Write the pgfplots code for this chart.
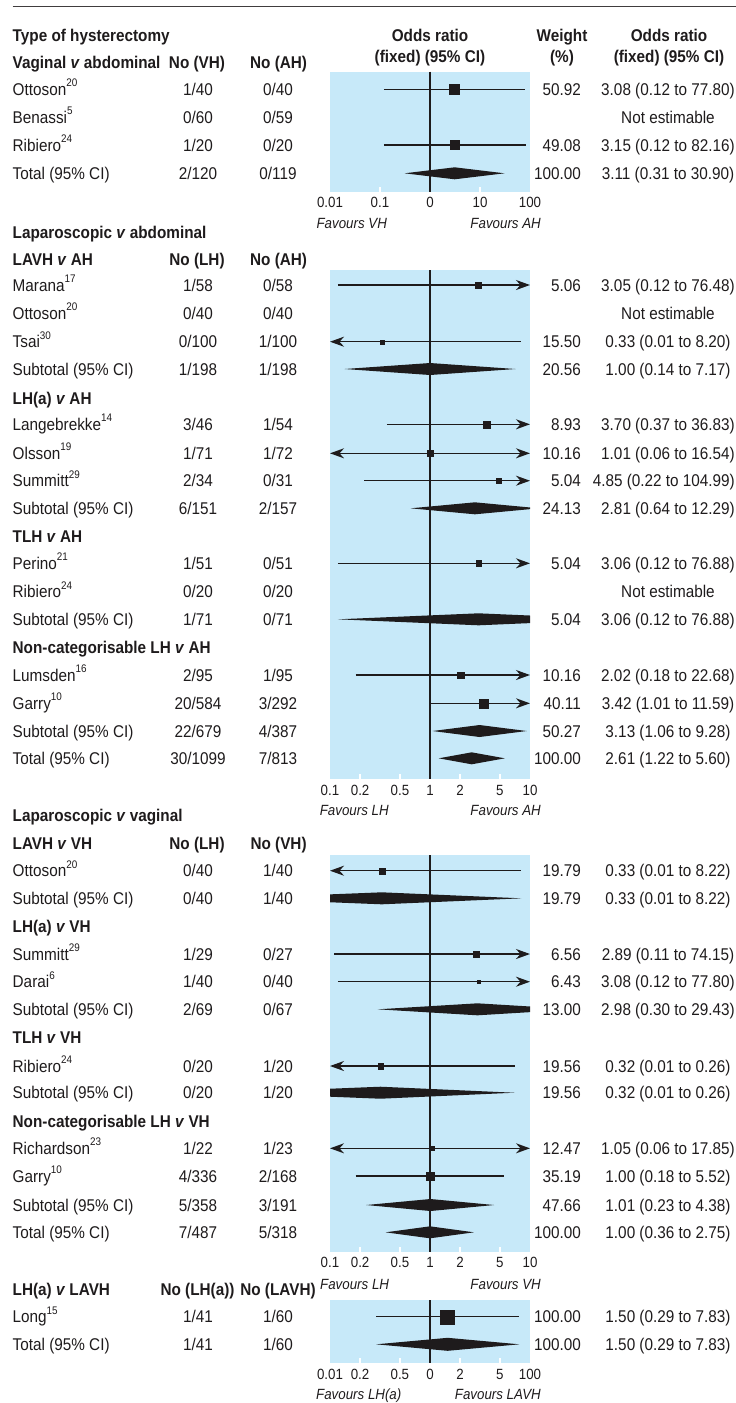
\documentclass[border=0pt]{standalone}
\usepackage{pgfplots}
\pgfplotsset{compat=1.18}
\usepackage{fontspec}
\setmainfont{Liberation Sans}[FakeStretch=0.9]
\usetikzlibrary{arrows.meta}
\definecolor{bluebg}{RGB}{199,233,249}
\definecolor{ink}{RGB}{30,27,28}
\newcommand\F{\fontsize{17pt}{20pt}\selectfont}
\newcommand\Fs{\fontsize{14.8pt}{17pt}\selectfont}
\newcommand\su[1]{\raisebox{0.5em}{\fontsize{11pt}{11pt}\selectfont #1}}
\newcommand\row[6]{%
 \node[anchor=base west] at (12.5,#1+6) {#2};
 \node[anchor=base] at (198,#1+6) {#3};
 \node[anchor=base] at (278,#1+6) {#4};
 \node[anchor=base east] at (581,#1+6) {#5};
 \node[anchor=base] at (668,#1+6) {#6};}
\newcommand\hd[3][base west]{\node[anchor=#1,font=\F\bfseries] at #2 {#3};}
\tikzset{ar/.tip={Stealth[length=14pt,width=10pt,inset=4.5pt]},
  ci/.style={ink, line width=1.4pt},
  dm/.style={fill=ink, draw=none},
  cl/.style={ink, line width=1.2pt},
  wt/.style={draw=white, line width=1.6pt}}
\pgfplotsset{
  sq/.style={only marks, mark=square*, mark options={fill=ink,draw=ink}, mark size=#1pt}}
\begin{document}
\begin{tikzpicture}[font=\F, text=ink]
\useasboundingbox (0pt,0pt) rectangle (736pt,-1403pt);
\begin{scope}[x=1pt,y=-1pt, every node/.style={inner sep=0pt}]
\draw[ink!85, line width=1.5pt] (12.5,6.7) -- (736,6.7);
% Panel 1 headers
\hd{(12.5,41.7)}{Type of hysterectomy}
\hd{(12.5,68.3)}{Vaginal \textit{v} abdominal}
\hd[base]{(197,68.3)}{No (VH)}
\hd[base]{(278.6,68.3)}{No (AH)}
\hd[base]{(430,41.7)}{Odds ratio}
\hd[base]{(430,62.7)}{(fixed) (95\% CI)}
\hd[base]{(562,41.7)}{Weight}
\hd[base]{(562,62.7)}{(\%)}
\hd[base]{(669,41.7)}{Odds ratio}
\hd[base]{(669,62.7)}{(fixed) (95\% CI)}
\row{89.3}{Ottoson\su{20}}{1/40}{0/40}{50.92}{3.08 (0.12 to 77.80)}
\row{117.3}{Benassi\su{5}}{0/60}{0/59}{}{Not estimable}
\row{145}{Ribiero\su{24}}{1/20}{0/20}{49.08}{3.15 (0.12 to 82.16)}
\row{173.3}{Total (95\% CI)}{2/120}{0/119}{100.00}{3.11 (0.31 to 30.90)}
\node[anchor=base west,font=\Fs\itshape] at (316.4,228) {Favours VH};
\node[anchor=base east,font=\Fs\itshape] at (541,228) {Favours AH};
% Panel 2
\hd{(12.5,238)}{Laparoscopic \textit{v} abdominal}
\hd{(12.5,265)}{LAVH \textit{v} AH}
\hd[base]{(197,265)}{No (LH)}
\hd[base]{(278.6,265)}{No (AH)}
\row{285}{Marana\su{17}}{1/58}{0/58}{5.06}{3.05 (0.12 to 76.48)}
\row{313.3}{Ottoson\su{20}}{0/40}{0/40}{}{Not estimable}
\row{341.7}{Tsai\su{30}}{0/100}{1/100}{15.50}{0.33 (0.01 to 8.20)}
\row{369}{Subtotal (95\% CI)}{1/198}{1/198}{20.56}{1.00 (0.14 to 7.17)}
\hd{(12.5,404.3)}{LH(a) \textit{v} AH}
\row{424.3}{Langebrekke\su{14}}{3/46}{1/54}{8.93}{3.70 (0.37 to 36.83)}
\row{453.3}{Olsson\su{19}}{1/71}{1/72}{10.16}{1.01 (0.06 to 16.54)}
\node[anchor=base west] at (12.5,486.7) {Summitt\su{29}};
\node[anchor=base] at (198,486.7) {2/34};
\node[anchor=base] at (278,486.7) {0/31};
\node[anchor=base east] at (581,486.7) {5.04};
\node[anchor=base east] at (735,486.7) {4.85 (0.22 to 104.99)};
\row{508.3}{Subtotal (95\% CI)}{6/151}{2/157}{24.13}{2.81 (0.64 to 12.29)}
\hd{(12.5,542)}{TLH \textit{v} AH}
\row{563.3}{Perino\su{21}}{1/51}{0/51}{5.04}{3.06 (0.12 to 76.88)}
\row{591.7}{Ribiero\su{24}}{0/20}{0/20}{}{Not estimable}
\row{619.3}{Subtotal (95\% CI)}{1/71}{0/71}{5.04}{3.06 (0.12 to 76.88)}
\hd{(12.5,653.7)}{Non-categorisable LH \textit{v} AH}
\row{675}{Lumsden\su{16}}{2/95}{1/95}{10.16}{2.02 (0.18 to 22.68)}
\row{703.3}{Garry\su{10}}{20/584}{3/292}{40.11}{3.42 (1.01 to 11.59)}
\row{731}{Subtotal (95\% CI)}{22/679}{4/387}{50.27}{3.13 (1.06 to 9.28)}
\row{758.3}{Total (95\% CI)}{30/1099}{7/813}{100.00}{2.61 (1.22 to 5.60)}
\node[anchor=base west,font=\Fs\itshape] at (319.6,815.4) {Favours LH};
\node[anchor=base east,font=\Fs\itshape] at (541,815.4) {Favours AH};
% Panel 3
\hd{(12.5,821)}{Laparoscopic \textit{v} vaginal}
\hd{(12.5,849.3)}{LAVH \textit{v} VH}
\hd[base]{(197,849.3)}{No (LH)}
\hd[base]{(278.6,849.3)}{No (VH)}
\row{870.7}{Ottoson\su{20}}{0/40}{1/40}{19.79}{0.33 (0.01 to 8.22)}
\row{898.3}{Subtotal (95\% CI)}{0/40}{1/40}{19.79}{0.33 (0.01 to 8.22)}
\hd{(12.5,932.7)}{LH(a) \textit{v} VH}
\row{954}{Summitt\su{29}}{1/29}{0/27}{6.56}{2.89 (0.11 to 74.15)}
\row{981.7}{Darai\su{6}}{1/40}{0/40}{6.43}{3.08 (0.12 to 77.80)}
\row{1009.3}{Subtotal (95\% CI)}{2/69}{0/67}{13.00}{2.98 (0.30 to 29.43)}
\hd{(12.5,1043.3)}{TLH \textit{v} VH}
\row{1066}{Ribiero\su{24}}{0/20}{1/20}{19.56}{0.32 (0.01 to 0.26)}
\row{1092.7}{Subtotal (95\% CI)}{0/20}{1/20}{19.56}{0.32 (0.01 to 0.26)}
\hd{(12.5,1127)}{Non-categorisable LH \textit{v} VH}
\row{1148.3}{Richardson\su{23}}{1/22}{1/23}{12.47}{1.05 (0.06 to 17.85)}
\row{1176}{Garry\su{10}}{4/336}{2/168}{35.19}{1.00 (0.18 to 5.52)}
\row{1205}{Subtotal (95\% CI)}{5/358}{3/191}{47.66}{1.01 (0.23 to 4.38)}
\row{1232.3}{Total (95\% CI)}{7/487}{5/318}{100.00}{1.00 (0.36 to 2.75)}
\node[anchor=base west,font=\Fs\itshape] at (320,1289.6) {Favours LH};
\node[anchor=base east,font=\Fs\itshape] at (541,1289.6) {Favours VH};
% Panel 4
\hd{(12.5,1295.3)}{LH(a) \textit{v} LAVH}
\hd[base]{(197.5,1295.3)}{No (LH(a))}
\hd[base]{(278,1295.3)}{No (LAVH)}
\row{1316.7}{Long\su{15}}{1/41}{1/60}{100.00}{1.50 (0.29 to 7.83)}
\row{1344.3}{Total (95\% CI)}{1/41}{1/60}{100.00}{1.50 (0.29 to 7.83)}
\node[anchor=base west,font=\Fs\itshape] at (316,1399.4) {Favours LH(a)};
\node[anchor=base east,font=\Fs\itshape] at (541,1399.4) {Favours LAVH};
\end{scope}

% ---------- Axis 1
\begin{axis}[xmode=log, scale only axis, width=200pt, height=120pt, y dir=reverse,
  at={(330pt,-191.7pt)}, anchor=south west,
  axis background/.style={fill=bluebg}, axis line style={draw=none},
  ytick=\empty, major tick length=0pt, minor tick length=0pt,
  xticklabel style={font=\Fs, anchor=base, yshift=-16pt, inner sep=0pt, text=ink},
  xmin=0.01, xmax=100, ymin=71.7, ymax=191.7,
  xtick={0.01,0.1,1,10,100}, xticklabels={0.01,0.1,0,10,100}]
\draw[wt] (axis cs:0.1,191.7) -- ++(0pt,5pt);
\draw[wt] (axis cs:10,191.7) -- ++(0pt,5pt);
\addplot[cl] coordinates {(1,71.7) (1,191.7)};
\addplot[ci] coordinates {(0.12,89.3) (77.80,89.3)};
\addplot[ci] coordinates {(0.12,145) (82.16,145)};
\addplot[sq=4.75] coordinates {(3.08,89.3)};
\addplot[sq=4.5] coordinates {(3.15,145)};
\addplot[dm] coordinates {(0.31,173.3) (3.11,167.3) (30.90,173.3) (3.11,179.3)} -- cycle;
\end{axis}

% ---------- Axis 2
\begin{axis}[xmode=log, scale only axis, width=200pt, height=509pt, y dir=reverse,
  at={(330pt,-779pt)}, anchor=south west,
  axis background/.style={fill=bluebg}, axis line style={draw=none},
  ytick=\empty, major tick length=0pt, minor tick length=0pt,
  xticklabel style={font=\Fs, anchor=base, yshift=-16pt, inner sep=0pt, text=ink},
  xmin=0.1, xmax=10, ymin=270, ymax=779,
  xtick={0.1,0.2,0.5,1,2,5,10}, xticklabels={0.1,0.2,0.5,1,2,5,10}]
\draw[wt] (axis cs:0.2,779) -- ++(0pt,5pt);
\draw[wt] (axis cs:0.5,779) -- ++(0pt,5pt);
\draw[wt] (axis cs:2,779) -- ++(0pt,5pt);
\draw[wt] (axis cs:5,779) -- ++(0pt,5pt);
\addplot[cl] coordinates {(1,270) (1,779)};
\addplot[ci,-ar] coordinates {(0.12,285) (10,285)};
\addplot[ci,ar-] coordinates {(0.1,341.7) (8.20,341.7)};
\addplot[ci,-ar] coordinates {(0.37,424.3) (10,424.3)};
\addplot[ci,ar-ar] coordinates {(0.1,453.3) (10,453.3)};
\addplot[ci,-ar] coordinates {(0.22,480.7) (10,480.7)};
\addplot[ci,-ar] coordinates {(0.12,563.3) (10,563.3)};
\addplot[ci,-ar] coordinates {(0.18,675) (10,675)};
\addplot[ci,-ar] coordinates {(1.01,703.3) (10,703.3)};
\addplot[sq=2.85] coordinates {(3.05,285)};
\addplot[sq=2.0] coordinates {(0.33,341.7)};
\addplot[sq=3.5] coordinates {(3.70,424.3)};
\addplot[sq=3.0] coordinates {(1.01,453.3)};
\addplot[sq=2.2] coordinates {(4.85,480.7)};
\addplot[sq=2.7] coordinates {(3.06,563.3)};
\addplot[sq=3.2] coordinates {(2.02,675)};
\addplot[sq=4.6] coordinates {(3.42,703.3)};
\addplot[dm] coordinates {(0.14,369) (1.00,363) (7.17,369) (1.00,375)} -- cycle;
\addplot[dm] coordinates {(0.64,508.3) (2.81,502.3) (12.29,508.3) (2.81,514.3)} -- cycle;
\addplot[dm] coordinates {(0.12,619.3) (3.06,613.3) (76.88,619.3) (3.06,625.3)} -- cycle;
\addplot[dm] coordinates {(1.06,731) (3.13,725) (9.28,731) (3.13,737)} -- cycle;
\addplot[dm] coordinates {(1.22,758.3) (2.61,752.3) (5.60,758.3) (2.61,764.3)} -- cycle;
\end{axis}

% ---------- Axis 3
\begin{axis}[xmode=log, scale only axis, width=200pt, height=396.7pt, y dir=reverse,
  at={(330pt,-1251.7pt)}, anchor=south west,
  axis background/.style={fill=bluebg}, axis line style={draw=none},
  ytick=\empty, major tick length=0pt, minor tick length=0pt,
  xticklabel style={font=\Fs, anchor=base, yshift=-16pt, inner sep=0pt, text=ink},
  xmin=0.1, xmax=10, ymin=855, ymax=1251.7,
  xtick={0.1,0.2,0.5,1,2,5,10}, xticklabels={0.1,0.2,0.5,1,2,5,10}]
\draw[wt] (axis cs:0.2,1251.7) -- ++(0pt,5pt);
\draw[wt] (axis cs:0.5,1251.7) -- ++(0pt,5pt);
\draw[wt] (axis cs:2,1251.7) -- ++(0pt,5pt);
\draw[wt] (axis cs:5,1251.7) -- ++(0pt,5pt);
\addplot[cl] coordinates {(1,855) (1,1251.7)};
\addplot[ci,ar-] coordinates {(0.1,870.7) (8.22,870.7)};
\addplot[ci,-ar] coordinates {(0.11,954) (10,954)};
\addplot[ci,-ar] coordinates {(0.12,981.7) (10,981.7)};
\addplot[ci,ar-] coordinates {(0.1,1066) (7.0,1066)};
\addplot[ci,ar-ar] coordinates {(0.1,1148.3) (10,1148.3)};
\addplot[ci] coordinates {(0.18,1176) (5.52,1176)};
\addplot[sq=3.0] coordinates {(0.33,870.7)};
\addplot[sq=2.7] coordinates {(2.89,954)};
\addplot[sq=1.6] coordinates {(3.08,981.7)};
\addplot[sq=2.7] coordinates {(0.32,1066)};
\addplot[sq=2.0] coordinates {(1.05,1148.3)};
\addplot[sq=4.2] coordinates {(1.00,1176)};
\addplot[dm] coordinates {(0.01,898.3) (0.33,892.3) (8.22,898.3) (0.33,904.3)} -- cycle;
\addplot[dm] coordinates {(0.30,1009.3) (2.98,1003.3) (29.43,1009.3) (2.98,1015.3)} -- cycle;
\addplot[dm] coordinates {(0.01,1092.7) (0.32,1086.7) (7.0,1092.7) (0.32,1098.7)} -- cycle;
\addplot[dm] coordinates {(0.23,1205) (1.01,1199) (4.38,1205) (1.01,1211)} -- cycle;
\addplot[dm] coordinates {(0.36,1232.3) (1.00,1226.3) (2.75,1232.3) (1.00,1238.3)} -- cycle;
\end{axis}

% ---------- Axis 4
\begin{axis}[xmode=log, scale only axis, width=200pt, height=63.3pt, y dir=reverse,
  at={(330pt,-1363.3pt)}, anchor=south west,
  axis background/.style={fill=bluebg}, axis line style={draw=none},
  ytick=\empty, major tick length=0pt, minor tick length=0pt,
  xticklabel style={font=\Fs, anchor=base, yshift=-16pt, inner sep=0pt, text=ink},
  xmin=0.1, xmax=10, ymin=1300, ymax=1363.3,
  xtick={0.1,0.2,0.5,1,2,5,10}, xticklabels={0.01,0.2,0.5,0,2,5,100}]
\draw[wt] (axis cs:0.2,1363.3) -- ++(0pt,5pt);
\draw[wt] (axis cs:0.5,1363.3) -- ++(0pt,5pt);
\draw[wt] (axis cs:2,1363.3) -- ++(0pt,5pt);
\draw[wt] (axis cs:5,1363.3) -- ++(0pt,5pt);
\addplot[cl] coordinates {(1,1300) (1,1363.3)};
\addplot[ci] coordinates {(0.29,1316.7) (7.83,1316.7)};
\addplot[sq=7] coordinates {(1.50,1316.7)};
\addplot[dm] coordinates {(0.29,1344.3) (1.50,1337.8) (7.83,1344.3) (1.50,1350.8)} -- cycle;
\end{axis}
\end{tikzpicture}
\end{document}
